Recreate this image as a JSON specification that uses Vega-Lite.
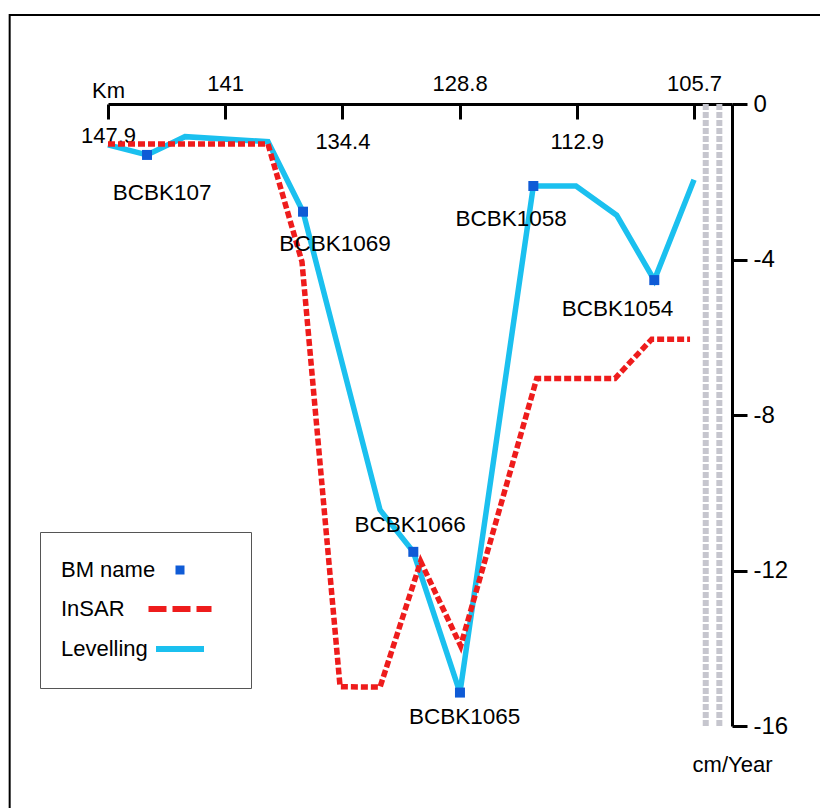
{
  "$schema": "https://vega.github.io/schema/vega-lite/v6.json",
  "width": 624,
  "height": 622,
  "autosize": "none",
  "padding": {"left": 108, "top": 104, "right": 88, "bottom": 82},
  "background": "white",
  "config": {"view": {"stroke": null}, "font": "Liberation Sans"},
  "datasets": {
    "lev": [
      {"x": 0, "y": -1.05, "series": "Levelling"},
      {"x": 0.333, "y": -1.31, "series": "Levelling", "bm": "BCBK107"},
      {"x": 0.657, "y": -0.84, "series": "Levelling"},
      {"x": 1.365, "y": -0.97, "series": "Levelling"},
      {"x": 1.664, "y": -2.77, "series": "Levelling", "bm": "BCBK1069"},
      {"x": 2.321, "y": -10.44, "series": "Levelling"},
      {"x": 2.605, "y": -11.52, "series": "Levelling", "bm": "BCBK1066"},
      {"x": 3.003, "y": -15.14, "series": "Levelling", "bm": "BCBK1065"},
      {"x": 3.629, "y": -2.11, "series": "Levelling", "bm": "BCBK1058"},
      {"x": 3.993, "y": -2.11, "series": "Levelling"},
      {"x": 4.34, "y": -2.86, "series": "Levelling"},
      {"x": 4.661, "y": -4.53, "series": "Levelling", "bm": "BCBK1054"},
      {"x": 5.0, "y": -1.95, "series": "Levelling"}
    ],
    "insar": [
      {"x": 0, "y": -1.03, "series": "InSAR"},
      {"x": 1.365, "y": -1.03, "series": "InSAR"},
      {"x": 1.655, "y": -4.06, "series": "InSAR"},
      {"x": 1.98, "y": -14.99, "series": "InSAR"},
      {"x": 2.321, "y": -15.0, "series": "InSAR"},
      {"x": 2.668, "y": -11.77, "series": "InSAR"},
      {"x": 3.009, "y": -13.94, "series": "InSAR"},
      {"x": 3.658, "y": -7.06, "series": "InSAR"},
      {"x": 4.326, "y": -7.06, "series": "InSAR"},
      {"x": 4.639, "y": -6.05, "series": "InSAR"},
      {"x": 4.966, "y": -6.05, "series": "InSAR"}
    ],
    "labels": [
      {"name": "BCBK107", "x": 0.461, "y": -2.28},
      {"name": "BCBK1069", "x": 1.937, "y": -3.6},
      {"name": "BCBK1066", "x": 2.577, "y": -10.83},
      {"name": "BCBK1065", "x": 3.042, "y": -15.77},
      {"name": "BCBK1058", "x": 3.439, "y": -2.96},
      {"name": "BCBK1054", "x": 4.347, "y": -5.27}
    ],
    "guides": [
      {"x": 5.1},
      {"x": 5.216}
    ],
    "frame": [
      {"left": -0.839, "right": 6.5, "top": 2.29, "bottom": -20}
    ]
  },
  "layer": [
    {
      "data": {"name": "frame"},
      "mark": {"type": "rect", "filled": false, "stroke": "black", "strokeWidth": 2, "clip": false},
      "encoding": {
        "x": {"field": "left", "type": "quantitative"},
        "x2": {"field": "right"},
        "y": {"field": "top", "type": "quantitative"},
        "y2": {"field": "bottom"}
      }
    },
    {
      "data": {"name": "guides"},
      "mark": {"type": "rule", "stroke": "#c6c6ce", "strokeWidth": 6, "strokeDash": [6, 2]},
      "encoding": {
        "x": {"field": "x", "type": "quantitative"},
        "y": {"datum": 0, "type": "quantitative"},
        "y2": {"datum": -16}
      }
    },
    {
      "data": {"name": "lev"},
      "mark": {"type": "line", "strokeWidth": 5.5},
      "encoding": {
        "x": {
          "field": "x",
          "type": "quantitative",
          "scale": {"domain": [0, 5.324], "nice": false, "zero": false},
          "axis": {
            "orient": "top",
            "values": [0, 1, 2, 3, 4, 5],
            "labelExpr": "['147.9','141','134.4','128.8','112.9','105.7'][datum.value]",
            "grid": false,
            "domainColor": "black",
            "domainWidth": 3,
            "tickColor": "black",
            "tickWidth": 3,
            "tickSize": -15,
            "labelFont": "Liberation Sans",
            "labelFontSize": 22,
            "labelColor": "black",
            "labelBaseline": "alphabetic",
            "labelFlush": false,
            "labelOverlap": false,
            "labelPadding": {
              "condition": [
                {"test": "datum.value === 0", "value": -23.7},
                {"test": "datum.value === 2 || datum.value === 4", "value": -29.5}
              ],
              "value": 28.3
            },
            "title": "Km",
            "titleFont": "Liberation Sans",
            "titleFontSize": 22,
            "titleFontWeight": "normal",
            "titleColor": "black",
            "titleAngle": 0,
            "titleX": 0,
            "titleY": -7,
            "titleAlign": "center",
            "titleBaseline": "alphabetic"
          }
        },
        "y": {
          "field": "y",
          "type": "quantitative",
          "scale": {"domain": [-16, 0], "nice": false, "zero": false},
          "axis": {
            "orient": "right",
            "values": [0, -4, -8, -12, -16],
            "labelExpr": "'' + datum.value",
            "grid": false,
            "domainColor": "black",
            "domainWidth": 3,
            "tickColor": "black",
            "tickWidth": 3,
            "tickSize": 15,
            "labelPadding": 6,
            "labelFont": "Liberation Sans",
            "labelFontSize": 24,
            "labelColor": "black",
            "labelFlush": false,
            "labelOverlap": false,
            "title": "cm/Year",
            "titleFont": "Liberation Sans",
            "titleFontSize": 22,
            "titleFontWeight": "normal",
            "titleColor": "black",
            "titleAngle": 0,
            "titleX": 0,
            "titleY": 667,
            "titleAlign": "center",
            "titleBaseline": "alphabetic"
          }
        },
        "color": {
          "field": "series",
          "type": "nominal",
          "scale": {"domain": ["BM name", "InSAR", "Levelling"], "range": ["#0f5bd6", "#ee1c1c", "#1bc0ef"]},
          "legend": {
            "orient": "none",
            "legendX": -68,
            "legendY": 428,
            "direction": "vertical",
            "title": null,
            "padding": 27,
            "strokeColor": "#555555",
            "fillColor": "white",
            "labelFont": "Liberation Sans",
            "labelFontSize": 22,
            "labelColor": "black",
            "rowPadding": 16,
            "labelOffset": -130,
            "symbolOffset": 102,
            "encode": {
              "symbols": {
                "update": {
                  "shape": {"signal": "datum.value === 'BM name' ? 'square' : (datum.value === 'InSAR' ? 'M-2.1,0H2.1' : 'M-1.6,0H1.6')"},
                  "size": {"signal": "datum.value === 'BM name' ? 81 : 900"},
                  "fill": {"signal": "datum.value === 'BM name' ? '#0f5bd6' : 'transparent'"},
                  "stroke": {"signal": "datum.value === 'InSAR' ? '#ee1c1c' : (datum.value === 'Levelling' ? '#1bc0ef' : 'transparent')"},
                  "strokeWidth": {"signal": "datum.value === 'BM name' ? 0 : 6"},
                  "strokeDash": {"signal": "datum.value === 'InSAR' ? [18, 6] : [1, 0]"},
                  "opacity": {"value": 1}
                }
              }
            }
          }
        }
      }
    },
    {
      "data": {"name": "insar"},
      "mark": {"type": "line", "strokeWidth": 5.5, "strokeDash": [7, 3]},
      "encoding": {
        "x": {"field": "x", "type": "quantitative"},
        "y": {"field": "y", "type": "quantitative"},
        "color": {"field": "series", "type": "nominal"}
      }
    },
    {
      "data": {"name": "lev"},
      "transform": [{"filter": "isValid(datum.bm)"}],
      "mark": {"type": "square", "size": 100, "filled": true, "opacity": 1},
      "encoding": {
        "x": {"field": "x", "type": "quantitative"},
        "y": {"field": "y", "type": "quantitative"},
        "color": {"datum": "BM name", "type": "nominal"}
      }
    },
    {
      "data": {"name": "labels"},
      "mark": {"type": "text", "font": "Liberation Sans", "fontSize": 22.5, "color": "black", "align": "center", "baseline": "middle"},
      "encoding": {
        "x": {"field": "x", "type": "quantitative"},
        "y": {"field": "y", "type": "quantitative"},
        "text": {"field": "name"}
      }
    }
  ]
}
